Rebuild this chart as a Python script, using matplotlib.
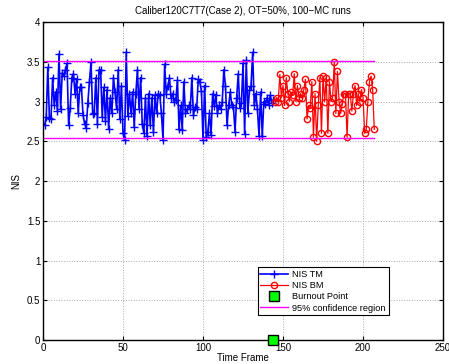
import matplotlib
matplotlib.use('Agg')
import matplotlib.pyplot as plt
import numpy as np

plt.rcParams['font.family'] = ['Liberation Sans', 'DejaVu Sans']
plt.rcParams['font.size'] = 7

# NIS of the tracking mode (frames 1..144)
nis_tm = [2.70, 2.80, 3.43, 2.79, 2.78, 3.30, 2.96, 3.12, 2.88, 3.60,
          2.90, 3.36, 3.32, 3.40, 3.48, 2.70, 2.92, 3.30, 3.35, 3.10,
          3.28, 2.86, 3.18, 3.18, 2.83, 2.72, 2.67, 2.98, 3.25, 3.50,
          2.84, 2.86, 3.30, 2.72, 3.40, 3.40, 2.80, 3.18, 2.76, 3.15,
          2.66, 3.05, 2.85, 3.30, 3.12, 2.90, 3.40, 2.78, 3.20, 2.60,
          2.52, 3.62, 2.82, 3.10, 2.85, 3.12, 2.68, 3.10, 3.40, 2.90,
          3.30, 2.72, 2.60, 3.05, 2.56, 3.10, 2.70, 3.05, 2.62, 3.08,
          2.85, 3.10, 3.08, 2.85, 2.52, 3.47, 3.10, 3.20, 3.30, 3.05,
          3.10, 3.00, 3.02, 3.27, 2.65, 2.95, 2.64, 3.25, 2.86, 2.90,
          2.95, 2.90, 3.30, 2.83, 2.93, 2.90, 3.28, 3.25, 3.13, 2.52,
          3.20, 2.55, 2.62, 2.85, 2.58, 3.10, 2.94, 3.08, 2.85, 2.95,
          2.90, 3.00, 3.40, 3.20, 2.70, 2.95, 3.12, 2.95, 2.93, 2.62,
          3.05, 3.35, 2.92, 2.98, 3.48, 2.59, 3.52, 2.86, 3.14, 3.20,
          3.62, 2.95, 3.10, 2.90, 2.57, 3.12, 2.56, 3.00, 2.97, 3.05,
          2.95, 3.08, 2.98, 3.02]

# NIS of the burnout mode (frames 145..207)
nis_bm = [3.00, 3.05, 3.00, 3.34, 3.05, 3.20, 2.95, 3.30, 3.10, 3.00,
          3.12, 3.08, 3.35, 3.00, 3.20, 3.05, 3.10, 3.05, 3.15, 3.28,
          2.78, 2.95, 2.92, 3.25, 2.55, 3.10, 2.50, 2.95, 3.30, 2.60,
          3.32, 3.00, 3.30, 2.60, 3.25, 3.00, 3.05, 3.50, 2.85, 3.38,
          3.00, 2.85, 2.97, 3.10, 3.10, 2.55, 3.10, 3.10, 2.88, 3.10,
          3.20, 2.95, 3.10, 3.00, 3.15, 3.05, 2.60, 2.65, 3.00, 3.25,
          3.32, 3.15, 2.65]

burnout_frame = 144
conf_upper = 3.51
conf_lower = 2.54

t_tm = np.arange(1, len(nis_tm) + 1)
t_bm = np.arange(len(nis_tm) + 1, len(nis_tm) + len(nis_bm) + 1)
t_end = t_bm[-1]

fig = plt.figure(figsize=(4.49, 3.64), dpi=100)
ax = fig.add_axes([0.0958, 0.0659, 0.891, 0.8736])

ax.plot(t_tm, nis_tm, color='blue', marker='+', markersize=6, linewidth=1.2,
        label='NIS TM')
ax.plot(t_bm, nis_bm, color='red', marker='o', markersize=4.5, markerfacecolor='none',
        linewidth=0.9, label='NIS BM')
ax.plot([burnout_frame], [0], marker='s', markersize=7, color='#00ff00',
        markeredgecolor='black', linestyle='none', clip_on=False, zorder=5,
        label='Burnout Point')
ax.plot([0, t_end], [conf_upper, conf_upper], color='magenta', linewidth=1.0,
        label='95% confidence region')
ax.plot([0, t_end], [conf_lower, conf_lower], color='magenta', linewidth=1.0)

ax.set_xlim(0, 250)
ax.set_ylim(0, 4)
ax.set_xticks(np.arange(0, 251, 50))
ax.set_yticks(np.arange(0, 4.01, 0.5))
ax.set_yticklabels(['0', '0.5', '1', '1.5', '2', '2.5', '3', '3.5', '4'])
ax.grid(True, linestyle=':', color='#aaaaaa', linewidth=0.7)
ax.tick_params(direction='in', top=True, right=True, length=3, labelsize=7, pad=2)
for s in ax.spines.values():
    s.set_linewidth(1.0)

ax.set_title('Caliber120C7T7(Case 2), OT=50%, 100\u2212MC runs', fontsize=7)
ax.set_xlabel('Time Frame', fontsize=7, labelpad=0)
ax.set_ylabel('NIS', fontsize=7)

leg = ax.legend(loc='lower left', bbox_to_anchor=(0.525, 0.063), fontsize=6.6,
                fancybox=False, edgecolor='black', framealpha=1,
                borderpad=0.3, labelspacing=0.25, handlelength=3, handletextpad=0.5)
leg.get_frame().set_linewidth(0.8)

fig.savefig('out.png', dpi=100)
